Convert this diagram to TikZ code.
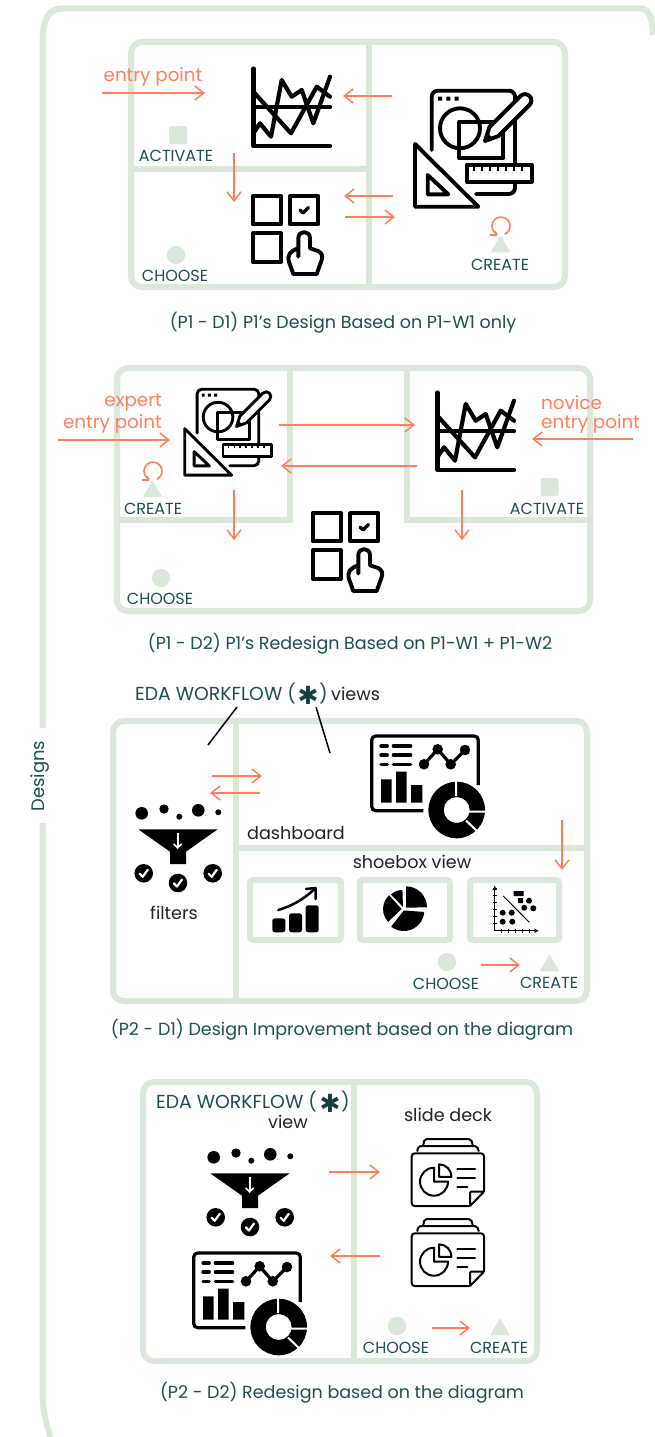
\documentclass[tikz,border=0pt]{standalone}
\usepackage{fontspec}
\setmainfont{Poppins}
\newfontfamily\symfont{DejaVu Sans}
\usetikzlibrary{arrows.meta}
\definecolor{pale}{HTML}{DCE7DC}
\definecolor{coral}{HTML}{FF7F5C}
\definecolor{tealtxt}{HTML}{1F4E50}
\definecolor{inkblk}{HTML}{222222}
\tikzset{
 framebox/.style={draw=pale,line width=6pt,rounded corners=11pt},
 divider/.style={draw=pale,line width=6pt},
 arr/.style={draw=coral,line width=1.9pt,-{Straight Barb[length=9pt,width=14pt,line width=1.5pt]}},
 lbl/.style={text=tealtxt,font=\fontsize{16}{18}\selectfont,inner sep=0pt,yshift=-1pt},
 captext/.style={text=tealtxt,font=\fontsize{17.5}{20}\selectfont,inner sep=0pt,yshift=-1pt},
 orangelbl/.style={text=coral,font=\fontsize{18.3}{20}\selectfont,inner sep=0pt},
 blacklbl/.style={text=inkblk,font=\fontsize{17.6}{20}\selectfont,inner sep=0pt,yshift=-1pt},
 headlbl/.style={text=tealtxt,font=\fontsize{18.8}{20}\selectfont,inner sep=0pt},
 startxt/.style={text=tealtxt!80!black,font=\symfont\fontsize{25}{25}\selectfont,inner sep=0pt},
 marker/.style={fill=pale,draw=pale,line width=1.5pt,line join=round},
 blackline/.style={draw=black,line width=1.5pt},
}
% arrow between two named coordinates
\newcommand{\Arr}[5]{\coordinate (#1s) at (#2,#3); \coordinate (#1e) at (#4,#5); \draw[arr] (#1s) -- (#1e);}
% line chart icon
\newcommand{\ChartIcon}[2]{\begin{scope}[shift={(#1,#2)},line width=4.2pt,line cap=round,line join=round]
 \draw (1.5,0.5)--(1.5,78)--(78,78);
 \draw (1.5,39.3)--(78,39.3);
 \draw (1.3,23.7)--(39,65.3)--(64.7,18.7)--(78,28.7);
 \draw (1.3,65.3)--(8,55.3)--(19,68.7)--(29.7,12)--(39.7,28.7)--(49.7,22)--(61.3,55.3)--(78,8.7);
\end{scope}}
% design tools icon, #3 scale
\newcommand{\ToolsIcon}[3]{\begin{scope}[shift={(#1,#2)},x=#3pt,y=-#3pt,line width=#3*3.9pt,line join=round,line cap=round]
 \draw (17.7,61)--(17.7,8) arc[start angle=180,end angle=270,radius=6.3]--(95,1.7) arc[start angle=270,end angle=360,radius=6]--(101,98.7) arc[start angle=0,end angle=90,radius=6.3]--(62,105);
 \fill (24,7.5) rectangle (28,11.5) (32.3,7.5) rectangle (36.3,11.5) (40.7,7.5) rectangle (44.7,11.5);
 \draw (46,39.3) circle[radius=20];
 \draw (45.3,32.7) rectangle (88.7,69.3);
 \draw[fill=white] (71,52)--(75.5,38)--(106.5,7) arc[start angle=225,end angle=405,radius=6.36]--(84.5,47)--cycle;
 \fill (71,52)--(75,45)--(78,49)--cycle;
 \draw[fill=white] (52.7,76) rectangle (117.7,92.7);
 \foreach \tk in {60,68,76,84,92,100,108} \draw[line width=#3*2.2pt,line cap=butt] (\tk,76)--(\tk,81.5);
 \draw[fill=white] (1,55)--(1,117.7)--(64.3,117.7)--cycle;
 \draw (13.7,86)--(13.7,105.3)--(34.3,105.3)--cycle;
\end{scope}}
% choose grid icon
\newcommand{\GridIcon}[2]{\begin{scope}[shift={(#1,#2)},line width=3.9pt,line join=round,line cap=round]
 \draw (0.7,1) rectangle (29,29.3);
 \draw (38,1) rectangle (66.3,29.3);
 \draw (0.7,38.3) rectangle (29,66.7);
 \draw[line width=3.4pt] (48,15)--(51,18)--(56.5,12.5);
 \draw[fill=white] (46.3,61.7)--(46.3,43.3) .. controls (46.3,35) and (58,35) .. (58,43.3)--(58,53.3)--(66,56) .. controls (70,58) and (71,61) .. (69.7,65)--(64.7,79)--(41.3,79)--(37,67) .. controls (35,60) and (38,56) .. (46.3,53.3);
\end{scope}}
% funnel icon
\newcommand{\CheckDot}[2]{\fill (#1,#2) circle[radius=9.3]; \draw[white,line width=2.2pt,line cap=round,line join=round] (#1-4,#2+0.5)--(#1-1,#2+3.5)--(#1+4,#2-3.5);}
\newcommand{\FunnelIcon}[2]{\begin{scope}[shift={(#1,#2)}]
 \fill (6.7,10.3) circle[radius=6.3] (29,6) circle[radius=4.7] (44.3,13.7) circle[radius=3] (63.3,7.3) circle[radius=6.3] (83.3,9.3) circle[radius=3];
 \fill (3.3,26.3)--(82.7,26.3)--(51,48.7)--(51,61)--(35,61)--(35,48.7)--cycle;
 \draw[white,line width=1.8pt,-{Straight Barb[length=4pt,width=8pt,line width=1.6pt]}] (42.7,30.3)--(42.7,46);
 \CheckDot{8.7}{70.3}\CheckDot{43}{80}\CheckDot{77.7}{70.3}
\end{scope}}
% dashboard icon
\newcommand{\DashIcon}[2]{\begin{scope}[shift={(#1,#2)},line join=round]
 \draw[line width=3.2pt,rounded corners=4pt] (107.3,49)--(107.3,0)--(0.7,0)--(0.7,74.7)--(52.3,74.7);
 \foreach \yy in {10,19,28.3} {\draw[line width=3.2pt,line cap=round] (10,\yy)--(16.3,\yy) (22.3,\yy)--(39.7,\yy);}
 \draw[line width=3.2pt] (53,28.3)--(66.7,13.3)--(79.7,28.3)--(94,14);
 \fill (53,28.3) circle[radius=5.3] (66.7,13.3) circle[radius=5.3] (79.7,28.3) circle[radius=5.3] (94,14) circle[radius=5.3];
 \fill (10,43.3) rectangle (20.7,66.7) (25,35.7) rectangle (35.7,66.7) (40,49) rectangle (51.3,66.7);
 \fill[white] (85.7,74) circle[radius=30.5];
 \fill[even odd rule] (85.7,74) circle[radius=28.3] (85.7,74) circle[radius=13];
 \draw[white,line width=2pt] (85.2,60)--(85.2,44) (97,75.5)--(116,75.5) (95,84.5)--(108,97);
\end{scope}}
% slide deck icon
\newcommand{\SlideIcon}[2]{\begin{scope}[shift={(#1,#2)},line width=2pt,line join=round,line cap=round]
 \draw[rounded corners=3pt] (59,69)--(0.7,69)--(0.7,16.3)--(73,16.3)--(73,54.7);
 \draw[rounded corners=1pt] (73,54.7)--(59,69)--(59,54.7)--cycle;
 \draw[rounded corners=2pt] (6.3,14)--(7.5,9)--(66,9)--(67.7,14);
 \draw[rounded corners=2pt] (12.3,8)--(13.5,2)--(60,2)--(61.7,8);
 \draw (23,30.7) arc[start angle=-90,end angle=-360,radius=14]--(23,44.7)--cycle;
 \draw (28,27.3) arc[start angle=-90,end angle=0,radius=12.5]--(28,39.8)--cycle;
 \draw (46.3,32.3)--(64,32.3) (46.3,40.7)--(64,40.7) (46.3,50.3)--(56.3,50.3);
\end{scope}}
% growth bars icon
\newcommand{\GrowthIcon}[2]{\begin{scope}[shift={(#1,#2)}]
 \fill[rounded corners=2.5pt] (0.3,31.3) rectangle (13.3,45.3) (17,26.3) rectangle (30,45.3) (33.7,18.3) rectangle (46.7,45.3);
 \draw[line width=2.5pt,line cap=round] (6.3,23) .. controls (20,19) and (32,12) .. (42,2.5);
 \draw[line width=2.5pt,line cap=round,line join=round] (34,2)--(43.5,1)--(43.5,12);
\end{scope}}
% pie icon
\newcommand{\PieIcon}[2]{\begin{scope}[shift={(#1,#2)}]
 \fill (23,21.7)--(23,0.3) arc[start angle=-90,end angle=0,radius=21]--cycle;
 \fill (20.8,24.5)--++(4:20.5) arc[start angle=4,end angle=128,radius=20.5]--cycle;
 \fill (18.5,23)--++(136:18.5) arc[start angle=136,end angle=228,radius=18.5]--cycle;
 \fill (20,21)--(8,8.5) arc[start angle=-132,end angle=-92,radius=18]--cycle;
\end{scope}}
% scatter icon
\newcommand{\ScatterIcon}[2]{\begin{scope}[shift={(#1,#2)}]
 \draw[line width=1.1pt,-{Latex[length=4.5pt,width=5pt]}] (3.7,45.7)--(3.7,0.5);
 \draw[line width=1.1pt,-{Latex[length=4.5pt,width=5pt]}] (3.7,45.7)--(48,45.7);
 \foreach \tk in {7,14,21,28,35,42} {\draw[line width=0.8pt] (1.5,45.7-\tk)--(6,45.7-\tk);}
 \foreach \tk in {7,14,21,28,35} {\draw[line width=0.8pt] (3.7+\tk,43.5)--(3.7+\tk,48);}
 \draw[line width=1pt] (12.3,11)--(38.3,37.3);
 \fill (11.7,27.7) circle[radius=3] (20.7,27.7) circle[radius=3] (11.7,36.7) circle[radius=3] (21.3,36.7) circle[radius=3];
 \fill (33.3,22.7) circle[radius=3] (42.3,23.3) circle[radius=3] (38,15.7) circle[radius=3];
 \fill (22.5,6) rectangle (27.5,11) (27.5,6) rectangle (32.5,11) (27,13) rectangle (32,18);
\end{scope}}
% colour markers
\newcommand{\SqMark}[2]{\fill[pale,rounded corners=2pt] (#1-9,#2-9) rectangle (#1+9,#2+9);}
\newcommand{\DotMark}[2]{\fill[pale] (#1,#2) circle[radius=9.2];}
\newcommand{\TriMark}[2]{\path[marker] (#1-8.5,#2+7.5)--(#1+8.5,#2+7.5)--(#1,#2-7.5)--cycle;}
\newcommand{\LoopMark}[2]{\draw[coral,line width=1.6pt] (#1-3.8,#2+8.2) arc[start angle=115,end angle=425,radius=9];
 \draw[coral,line width=1.6pt] (#1-11,#2+9)--(#1-4,#2+9) (#1-6,#2+5)--(#1-4.5,#2+8.5);}
\begin{document}
\begin{tikzpicture}[x=1pt,y=-1pt]
\useasboundingbox[fill=white] (0,0) rectangle (655,1437);
% outer frame
\coordinate (ftop) at (42.5,728);
\coordinate (fbot) at (42.5,823);
\begin{scope}
\clip (0,0) rectangle (655,1437);
\draw[divider] (ftop)--(42.5,45) .. controls (42.5,20) and (48,8.5) .. (62,8.5)--(640,8.5) .. controls (648,8.5) and (652,14) .. (653,35);
\draw[divider] (fbot)--(42.5,1390) .. controls (42.5,1410) and (46,1425) .. (52,1440);
\end{scope}
\node[rotate=90,text=tealtxt,font=\fontsize{18}{20}\selectfont,inner sep=0pt] (designs) at (40,776) {Designs};

% ---------- P1-D1
\draw[framebox] (131,42) rectangle (565,287);
\draw[divider] (369,42)--(369,287);
\draw[divider] (131,169)--(369,169);
\ChartIcon{252}{68}
\ToolsIcon{414}{89}{1}
\GridIcon{252}{195}
\node[orangelbl] (ep1) at (153,77) {entry point};
\Arr{a1}{102}{93}{205}{93}
\Arr{a2}{392}{96}{343}{96}
\Arr{a3}{234}{153}{234}{202}
\Arr{a4}{393}{196}{344}{196}
\Arr{a5}{345}{217}{395}{217}
\SqMark{178}{135}
\node[lbl] (act1) at (176,155) {ACTIVATE};
\DotMark{176}{255}
\node[lbl] (ch1) at (175,275) {CHOOSE};
\LoopMark{501}{226}
\TriMark{500.5}{244}
\node[lbl] (cr1) at (500,264) {CREATE};
\node[captext] (cap1) at (343,322) {(P1 - D1) P1's Design Based on P1-W1 only};

% ---------- P1-D2
\draw[framebox] (117,368) rectangle (590,611);
\draw[divider] (290,368)--(290,520)--(117,520);
\draw[divider] (407,368)--(407,520)--(590,520);
\ToolsIcon{184}{388}{0.74}
\ChartIcon{436}{392}
\GridIcon{312}{512}
\node[orangelbl,anchor=east] (exp) at (162,403) {expert};
\node[orangelbl,anchor=east] (ep2) at (162,424) {entry point};
\node[orangelbl,anchor=west] (nov) at (541,403) {novice};
\node[orangelbl,anchor=west] (ep3) at (541,424) {entry point};
\Arr{b1}{58}{440}{170}{440}
\Arr{b2}{633}{439}{532}{439}
\Arr{b3}{279}{425}{415}{425}
\Arr{b4}{417}{466}{281}{466}
\Arr{b5}{234}{490}{234}{540}
\Arr{b6}{462}{490}{462}{540}
\LoopMark{153}{471}
\TriMark{152.5}{489}
\node[lbl] (cr2) at (153,508) {CREATE};
\SqMark{549.5}{487}
\node[lbl] (act2) at (547,508) {ACTIVATE};
\DotMark{161}{578}
\node[lbl] (ch2) at (160,598) {CHOOSE};
\node[captext] (cap2) at (350,643) {(P1 - D2) P1's Redesign Based on P1-W1 + P1-W2};

% ---------- P2-D1
\draw[framebox] (113,721) rectangle (587,1001);
\draw[divider] (236,721)--(236,1001);
\draw[divider] (236,848)--(587,848);
\node[headlbl,anchor=west] (eda1) at (135,693) {EDA WORKFLOW (};
\node[startxt] (star1) at (308,695) {✱};
\node[headlbl,anchor=west] (par1) at (319,693) {)};
\node[blacklbl,anchor=west] (views) at (331,693) {views};
\coordinate (l1a) at (237,707); \coordinate (l1b) at (208,745);
\coordinate (l2a) at (316,707); \coordinate (l2b) at (330,753);
\draw[blackline] (l1a)--(l1b);
\draw[blackline] (l2a)--(l2b);
\Arr{c1}{212}{776}{262}{776}
\Arr{c2}{260}{793}{210}{793}
\FunnelIcon{135}{803}
\node[blacklbl] (filt) at (174,912) {filters};
\DashIcon{371}{736}
\node[blacklbl] (dash) at (296,832) {dashboard};
\node[blacklbl] (shoe) at (412,861) {shoebox view};
\draw[framebox,rounded corners=3pt] (250,880) rectangle (341,940);
\draw[framebox,rounded corners=3pt] (360,880) rectangle (450,940);
\draw[framebox,rounded corners=3pt] (470,880) rectangle (559,940);
\Arr{c3}{562}{820}{562}{870}
\GrowthIcon{272}{887}
\PieIcon{383}{886}
\ScatterIcon{491}{885}
\DotMark{447}{962}
\node[lbl] (ch3) at (446,983) {CHOOSE};
\Arr{c4}{481}{965}{520}{965}
\TriMark{549.5}{963}
\node[lbl] (cr3) at (549,982) {CREATE};
\node[captext] (cap3) at (342,1029) {(P2 - D1) Design Improvement based on the diagram};

% ---------- P2-D2
\draw[framebox] (143,1082) rectangle (537,1361);
\draw[divider] (354,1082)--(354,1361);
\node[headlbl,anchor=west] (eda2) at (156,1101) {EDA WORKFLOW (};
\node[startxt] (star2) at (330,1103) {✱};
\node[headlbl,anchor=west] (par2) at (341,1101) {)};
\node[blacklbl] (view) at (288,1121) {view};
\node[blacklbl] (deck) at (448,1114) {slide deck};
\FunnelIcon{207}{1147}
\DashIcon{193}{1253}
\SlideIcon{411}{1137}
\SlideIcon{411}{1217}
\Arr{d1}{329}{1172}{380}{1172}
\Arr{d2}{380}{1256}{330}{1256}
\DotMark{397}{1326}
\node[lbl] (ch4) at (396,1347) {CHOOSE};
\Arr{d3}{432}{1328}{470}{1328}
\TriMark{500}{1327}
\node[lbl] (cr4) at (499,1347) {CREATE};
\node[captext] (cap4) at (342,1392) {(P2 - D2) Redesign based on the diagram};
\end{tikzpicture}
\end{document}
